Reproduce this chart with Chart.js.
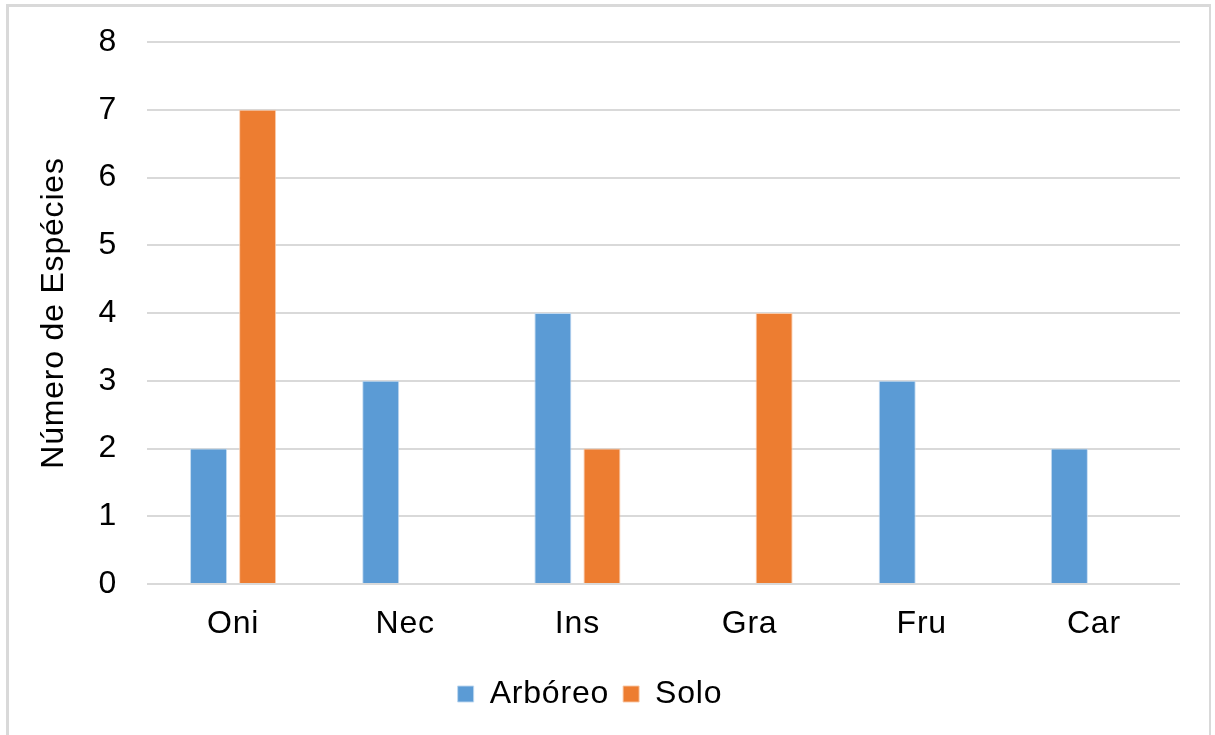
<!DOCTYPE html>
<html>
<head>
<meta charset="utf-8">
<script src="https://cdn.jsdelivr.net/npm/chart.js@4/dist/chart.umd.min.js"></script>
<style>
  html, body { margin: 0; padding: 0; background: #fff; }
  body { width: 1215px; height: 735px; overflow: hidden; position: relative; }
  #frame {
    position: absolute; left: 6px; top: 4px; width: 1205px; height: 760px;
    border-left: 3px solid #d9d9d9; border-top: 3px solid #d9d9d9; border-right: 2px solid #d9d9d9;
    box-sizing: border-box;
  }
  #c { position: absolute; left: 0; top: 0; }
</style>
</head>
<body>
<div id="frame"></div>
<canvas id="c" width="1215" height="735"></canvas>
<script>
// Feeding guilds and number of species per stratum
const categories = ['Oni', 'Nec', 'Ins', 'Gra', 'Fru', 'Car'];
const arboreo = [2, 3, 4, 0, 3, 2];
const solo = [7, 0, 2, 4, 0, 0];
const yTicks = [0, 1, 2, 3, 4, 5, 6, 7, 8];

const FONT = "'Liberation Sans', Arial, sans-serif";
const SIZE = 32;
const SPACING = '0.8px';

// Slightly wider tracking for all canvas text
const tracking = {
  id: 'tracking',
  beforeLayout(chart) { chart.ctx.letterSpacing = SPACING; },
  beforeDraw(chart) { chart.ctx.letterSpacing = SPACING; },
  beforeDatasetsDraw(chart) { chart.ctx.letterSpacing = SPACING; }
};

new Chart(document.getElementById('c'), {
  type: 'bar',
  data: {
    labels: categories,
    datasets: [
      { label: 'Arbóreo', data: arboreo, backgroundColor: '#5b9bd5',
        borderColor: 'rgba(190,215,240,0.9)', borderWidth: 1 },
      { label: 'Solo', data: solo, backgroundColor: '#ed7d31',
        borderColor: 'rgba(248,200,165,0.9)', borderWidth: 1 }
    ]
  },
  options: {
    responsive: false,
    animation: false,
    devicePixelRatio: 1,
    categoryPercentage: 0.57,
    barPercentage: 0.755,
    layout: { padding: { top: 42, right: 35, bottom: 15, left: 0 } },
    font: { family: FONT, size: SIZE },
    plugins: {
      tooltip: { enabled: false },
      legend: {
        position: 'bottom',
        labels: {
          color: '#000', boxWidth: 16, boxHeight: 16, padding: 14,
          font: { family: FONT, size: SIZE }
        }
      }
    },
    scales: {
      x: {
        afterFit(scale) {
          scale.height = 80;
          scale.paddingLeft = 0; scale.paddingRight = 0;
        },
        grid: { display: false, drawTicks: false },
        border: { display: false },
        ticks: { color: '#000', padding: 21, font: { family: FONT, size: SIZE } }
      },
      y: {
        min: 0, max: 8,
        afterFit(scale) {
          scale.width = 147;
          scale.paddingTop = 0; scale.paddingBottom = 0;
        },
        afterBuildTicks(scale) { scale.ticks = yTicks.map(v => ({ value: v })); },
        grid: { color: '#d9d9d9', lineWidth: 2, drawTicks: false },
        border: { display: false },
        ticks: { color: '#000', padding: 30, font: { family: FONT, size: SIZE } },
        title: {
          display: true, text: 'Número de Espécies', color: '#000',
          padding: { top: 35, bottom: 0 },
          font: { family: FONT, size: SIZE }
        }
      }
    }
  },
  plugins: [tracking]
});
</script>
</body>
</html>
